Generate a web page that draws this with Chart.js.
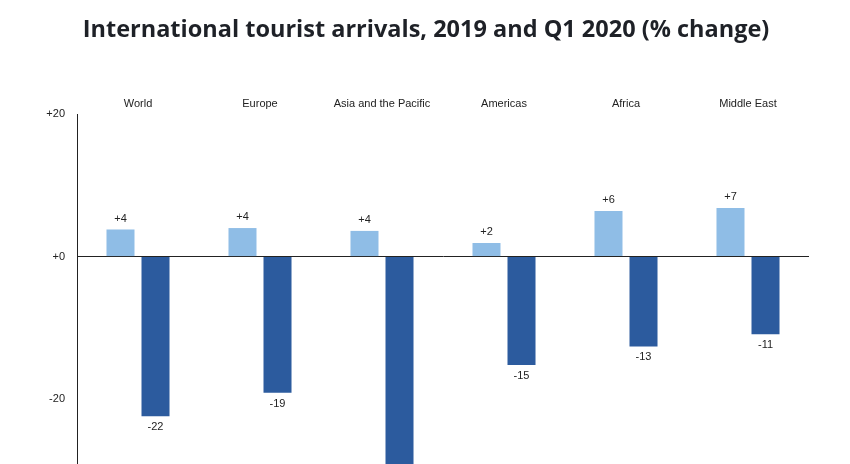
<!DOCTYPE html>
<html>
<head>
<meta charset="utf-8">
<script src="https://cdn.jsdelivr.net/npm/chart.js@4.4.1/dist/chart.umd.min.js"></script>
<style>
  html, body { margin: 0; padding: 0; background: #fff; }
  #wrap { width: 850px; height: 464px; }
</style>
</head>
<body>
<div id="wrap"><canvas id="tourismChart"></canvas></div>
<script>
// Regions along the top
var regions = ['World', 'Europe', 'Asia and the Pacific', 'Americas', 'Africa', 'Middle East'];

// % change
var change2019 = [3.8, 4.0, 3.6, 1.9, 6.4, 6.8];
var changeQ1 = [-22.4, -19.1, -35, -15.2, -12.6, -10.9];

// printed value labels
var labels2019 = ['+4', '+4', '+4', '+2', '+6', '+7'];
var labelsQ1 = ['-22', '-19', '-35', '-15', '-13', '-11'];

// y axis ticks shown
var yTicks = [20, 0, -20];

var textFont = "'Liberation Sans', Arial, sans-serif";

// draws the +4 / -22 labels next to each bar end
var valueLabels = {
  id: 'valueLabels',
  afterDatasetsDraw: function(chart) {
    var ctx = chart.ctx;
    var area = chart.chartArea;
    ctx.save();
    ctx.font = '11px ' + textFont;
    ctx.fillStyle = '#222';
    ctx.textAlign = 'center';
    ctx.textBaseline = 'middle';
    chart.data.datasets.forEach(function(ds, i) {
      chart.getDatasetMeta(i).data.forEach(function(bar, j) {
        var v = ds.data[j];
        var y = v >= 0 ? bar.y - 11 : bar.y + 11;
        if (y > area.bottom) return;
        ctx.fillText(ds.valueLabels[j], bar.x, y);
      });
    });
    ctx.restore();
  }
};

var ctx = document.getElementById('tourismChart').getContext('2d');

var tourismChart = new Chart(ctx, {
  type: 'bar',
  data: {
    labels: regions,
    datasets: [{
      label: '2019',
      data: change2019,
      valueLabels: labels2019,
      backgroundColor: '#8fbde6',
      barPercentage: 0.8,
      categoryPercentage: 0.574
    }, {
      label: 'Q1 2020',
      data: changeQ1,
      valueLabels: labelsQ1,
      backgroundColor: '#2c5b9e',
      barPercentage: 0.8,
      categoryPercentage: 0.574
    }]
  },
  options: {
    responsive: true,
    maintainAspectRatio: false,
    animation: false,
    // left/right chosen so the title centres where the original does
    layout: { padding: { left: 43, right: 41, top: 0, bottom: 0 } },
    plugins: {
      legend: { display: false },
      tooltip: { enabled: false },
      title: {
        display: true,
        text: 'International tourist arrivals, 2019 and Q1 2020 (% change)',
        color: '#1e2127',
        font: { family: "'Open Sans', sans-serif", size: 23.5, weight: 'bold', lineHeight: 1.2 },
        padding: { top: 16, bottom: 0 }
      }
    },
    scales: {
      x: {
        position: 'top',
        grid: { display: false, drawTicks: false },
        border: { display: false },
        ticks: {
          color: '#222',
          font: { family: textFont, size: 11 },
          padding: 3,
          maxRotation: 0,
          autoSkip: false
        },
        afterFit: function(scale) { scale.height = 114 - 44.2; }
      },
      y: {
        min: -29.1,
        max: 20,
        grid: {
          drawTicks: false,
          color: function(c) { return c.tick && c.tick.value === 0 ? '#222' : 'rgba(0,0,0,0)'; },
          lineWidth: 1
        },
        border: { display: true, color: '#222', width: 1 },
        afterBuildTicks: function(scale) {
          scale.ticks = yTicks.map(function(v) { return { value: v }; });
        },
        ticks: {
          color: '#222',
          font: { family: textFont, size: 11 },
          padding: 12,
          callback: function(v) { return (v >= 0 ? '+' : '') + v; }
        },
        afterFit: function(scale) {
          scale.width = 77 - 43;
          scale.paddingTop = 0;
          scale.paddingBottom = 0;
        }
      }
    }
  },
  plugins: [valueLabels]
});
</script>
</body>
</html>
